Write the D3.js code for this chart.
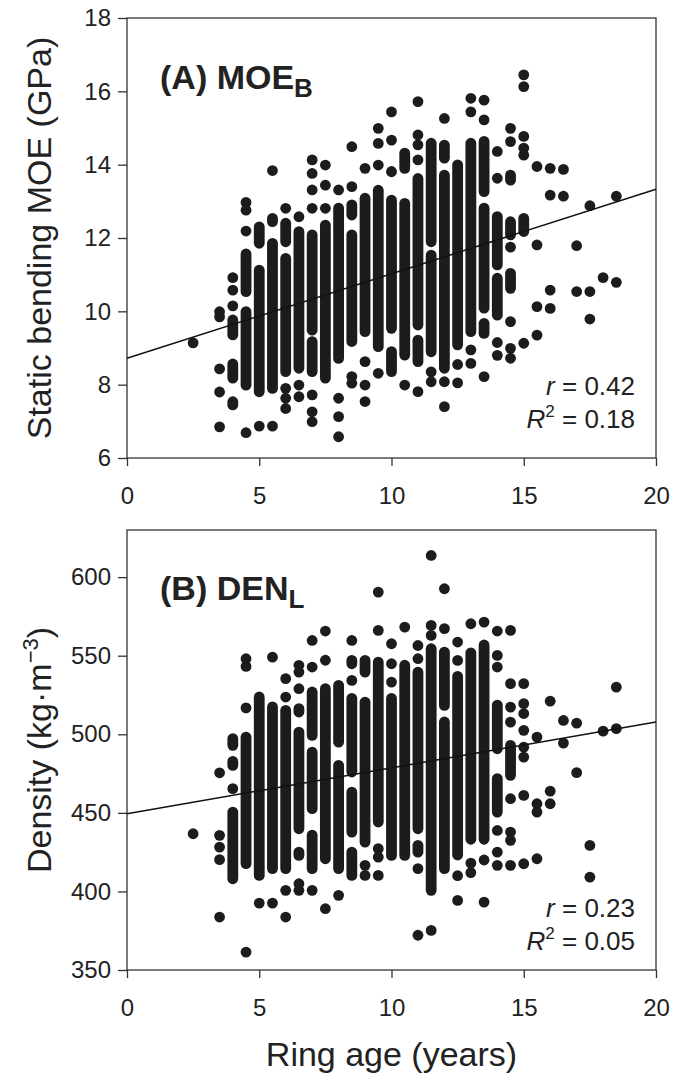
<!DOCTYPE html>
<html><head><meta charset="utf-8">
<script src="https://cdn.jsdelivr.net/npm/d3@7"></script>
<style>
body{margin:0;background:#fff}
text{font-family:"Liberation Sans",Arial,sans-serif;fill:#222}
</style>
</head><body>
<svg id="c" width="673" height="1081"></svg>
<script>
// ---------- data ----------
const xTicks = [0, 5, 10, 15, 20];
const moeTicks = [6, 8, 10, 12, 14, 16, 18];
const denTicks = [350, 400, 450, 500, 550, 600];
const moeFit = [8.72, 0.2305];   // intercept, slope
const denFit = [449.5, 2.915];
const moeStats = ["0.42", "0.18"];
const denStats = ["0.23", "0.05"];

// dense runs of overlapping points: [age, upper value, lower value]
const moeRuns = [
  [4,9.90,9.22],[4,8.70,8.04],[4,7.67,7.31],
  [4.5,11.70,10.40],[4.5,10.13,7.85],
  [5,12.44,11.72],[5,11.26,7.67],
  [5.5,12.67,12.31],[5.5,11.99,7.76],
  [6,12.54,11.76],[6,11.58,8.22],
  [6.5,12.31,8.31],
  [7,12.22,9.35],[7,9.31,8.22],
  [7.5,12.49,8.04],
  [8,12.95,8.58],
  [8.5,13.04,12.49],[8.5,12.22,9.04],
  [9,13.22,9.31],
  [9.5,13.44,8.90],
  [10,13.95,13.67],[10,13.17,9.40],[10,9.04,8.22],
  [10.5,14.45,13.76],[10.5,13.08,8.67],
  [11,13.76,9.49],[11,9.35,8.49],
  [11.5,14.72,11.76],[11.5,11.67,8.76],
  [12,14.67,14.04],[12,13.85,8.31],
  [12.5,14.13,8.95],
  [13,14.72,9.31],
  [13.5,14.77,13.13],[13.5,12.95,9.95],[13.5,9.81,9.26],
  [14,12.72,11.13],[14,11.04,9.76],
  [14.5,13.85,13.44],[14.5,12.58,11.95],[14.5,11.17,10.49],
  [15,12.67,12.04]
];
// individual points: [age, value]
const moeDots = [
  [2.5,9.14],
  [3.5,9.99],[3.5,9.85],[3.5,8.43],[3.5,7.80],[3.5,6.85],
  [4,10.92],[4,10.58],[4,10.15],
  [4.5,12.97],[4.5,12.76],[4.5,12.19],[4.5,6.69],
  [5,6.87],
  [5.5,13.84],[5.5,6.87],
  [6,12.81],[6,7.90],[6,7.63],[6,7.35],
  [6.5,12.58],[6.5,7.99],[6.5,7.67],
  [7,14.13],[7,13.76],[7,13.31],[7,12.81],[7,7.72],[7,7.26],[7,6.99],
  [7.5,13.99],[7.5,13.44],[7.5,12.81],
  [8,13.31],[8,7.63],[8,7.13],[8,6.58],
  [8.5,14.49],[8.5,13.40],[8.5,8.22],[8.5,8.04],
  [9,13.90],[9,8.63],[9,7.99],[9,7.54],
  [9.5,14.99],[9.5,14.58],[9.5,13.99],[9.5,8.31],
  [10,15.44],[10,14.67],
  [10.5,7.99],
  [11,15.72],[11,14.81],[11,14.54],[11,14.13],[11,7.81],
  [11.5,8.35],[11.5,8.08],
  [12,15.26],[12,8.08],[12,7.40],
  [12.5,8.55],[12.5,8.05],
  [13,15.81],[13,15.44],[13,8.95],[13,8.58],
  [13.5,15.76],[13.5,15.22],[13.5,8.22],
  [14,14.36],[14,13.63],[14,9.15],[14,8.80],
  [14.5,14.99],[14.5,14.63],[14.5,11.75],[14.5,9.72],[14.5,8.99],[14.5,8.72],
  [15,16.45],[15,16.13],[15,14.77],[15,14.45],[15,14.26],[15,9.13],
  [15.5,13.95],[15.5,11.81],[15.5,10.13],[15.5,9.35],
  [16,13.90],[16,13.17],[16,10.58],[16,10.08],
  [16.5,13.87],[16.5,13.14],
  [17,11.79],[17,10.54],
  [17.5,12.88],[17.5,10.54],[17.5,9.79],
  [18,10.92],
  [18.5,13.14],[18.5,10.79]
];

const denRuns = [
  [4,500.4,489.8],[4,486,477],[4,453.7,404.9],
  [4.5,519.5,514.1],[4.5,501.4,414.5],
  [5,526.9,407],
  [5.5,520.6,411.3],
  [6,538.6,532.2],[6,518.4,411.3],
  [6.5,519.5,511],[6.5,504.6,436.7],[6.5,428.2,419.7],
  [7,530.1,496.1],[7,491.8,449.5],[7,439,411.3],
  [7.5,532.2,417.6],
  [8,534.3,491.8],[8,483.4,411.3],
  [8.5,550.2,541.7],[8.5,526,472.8],[8.5,466.4,434.6],[8.5,428.2,407],
  [9,550.2,536.4],[9,523.7,428.2],
  [9.5,549.1,441],
  [10,526,419.7],
  [10.5,547.1,419.7],
  [11,542.8,436.7],[11,432.5,421.8],
  [11.5,557.6,397.5],
  [12,555.5,515.2],[12,511,411.3],
  [12.5,540,420],
  [13,572.5,568.2],[13,555,430],
  [13.5,560,430],
  [14,521.8,487.6],[14,475,447.3],
  [14.5,496.1,470.7]
];
const denDots = [
  [2.5,436.7],
  [3.5,475.5],[3.5,435.7],[3.5,428.2],[3.5,420.2],[3.5,383.7],
  [4,465.4],
  [4.5,548.1],[4.5,543.2],[4.5,361.4],
  [5,392.6],
  [5.5,549.1],[5.5,392.6],
  [6,523.7],[6,400.7],[6,383.7],
  [6.5,543.9],[6.5,539.6],[6.5,529],[6.5,404.9],[6.5,400.7],
  [7,559.7],[7,542.8],[7,400.7],
  [7.5,565.7],[7.5,547.1],[7.5,389],
  [8,397.5],
  [8.5,559.7],[8.5,534.3],
  [9,416.6],[9,410.2],
  [9.5,590.5],[9.5,566.1],[9.5,427.2],[9.5,421.8],[9.5,410.2],
  [10,557.6],[10,544.9],[10,533.2],
  [10.5,568.2],
  [11,556.5],[11,548.1],[11,414.5],[11,372.1],
  [11.5,613.8],[11.5,569.3],[11.5,562.9],[11.5,375.2],
  [12,592.6],[12,567.2],
  [12.5,558.7],[12.5,547],[12.5,410],[12.5,394.3],
  [13,418],[13,412],
  [13.5,571.4],[13.5,420],[13.5,393.2],
  [14,565.7],[14,550.2],[14,542.8],[14,438.8],[14,425],[14,416.6],
  [14.5,566.1],[14.5,532.2],[14.5,517.3],[14.5,507.7],[14.5,459],[14.5,437.8],[14.5,432.5],[14.5,416.6],
  [15,532.2],[15,519.5],[15,513.2],[15,502.5],[15,491.8],[15,485.5],[15,461.1],[15,417.6],
  [15.5,498.2],[15.5,455.8],[15.5,450.5],[15.5,420.8],
  [16,521.1],[16,463.8],[16,455.8],
  [16.5,508.8],[16.5,494.4],
  [17,507.1],[17,475.6],
  [17.5,429.3],[17.5,409.1],
  [18,502],
  [18.5,530],[18.5,503.6]
];

// ---------- drawing ----------
const svg = d3.select("#c");
const L = 127, R = 656, r = 5.4;
const ink = "#1c1c1c", axisCol = "#333";
const x = d3.scaleLinear().domain([0, 20]).range([L, R]);

function panel(o) {
  const y = d3.scaleLinear().domain(o.domain).range([o.bottom, o.top]);
  const g = svg.append("g");

  g.append("rect").attr("x", L).attr("y", o.top).attr("width", R - L).attr("height", o.bottom - o.top)
    .attr("fill", "none").attr("stroke", axisCol).attr("stroke-width", 1.3);

  const ax = g.append("g").attr("transform", `translate(${L},0)`)
    .call(d3.axisLeft(y).tickValues(o.ticks).tickSize(9).tickPadding(7).tickSizeOuter(0));
  ax.select(".domain").remove();
  ax.selectAll("line").attr("stroke", axisCol).attr("stroke-width", 1.3);
  ax.selectAll("text").style("font-size", "24px").attr("fill", "#2a2a2a");

  const bx = g.append("g").attr("transform", `translate(0,${o.bottom})`)
    .call(d3.axisBottom(x).tickValues(xTicks).tickSize(8).tickPadding(21).tickSizeOuter(0));
  bx.select(".domain").remove();
  bx.selectAll("line").attr("stroke", axisCol).attr("stroke-width", 1.3);
  bx.selectAll("text").style("font-size", "24px").attr("fill", "#2a2a2a");

  g.selectAll(null).data(o.runs).join("line")
    .attr("x1", d => x(d[0])).attr("x2", d => x(d[0]))
    .attr("y1", d => { const a = y(d[1]) + 5, b = y(d[2]) - 5; return a <= b ? a : (a + b) / 2; })
    .attr("y2", d => { const a = y(d[1]) + 5, b = y(d[2]) - 5; return a <= b ? b : (a + b) / 2; })
    .attr("stroke", ink).attr("stroke-width", 2 * r).attr("stroke-linecap", "round");
  g.selectAll(null).data(o.dots).join("circle")
    .attr("cx", d => x(d[0])).attr("cy", d => y(d[1])).attr("r", r).attr("fill", ink);

  g.append("line").attr("x1", x(0)).attr("x2", x(20))
    .attr("y1", y(o.fit[0])).attr("y2", y(o.fit[0] + o.fit[1] * 20))
    .attr("stroke", "#111").attr("stroke-width", 1.5);

  const t = g.append("text").attr("x", 160).attr("y", o.top + o.labelDy)
    .style("font-size", "34px").style("font-weight", "bold");
  t.append("tspan").text(o.label);
  t.append("tspan").attr("dy", 8).style("font-size", "26px").text(o.sub);

  const s1 = g.append("text").attr("x", 635).attr("y", o.statY).attr("text-anchor", "end").style("font-size", "26px");
  s1.append("tspan").style("font-style", "italic").text("r");
  s1.append("tspan").text(" = " + o.stats[0]);
  const s2 = g.append("text").attr("x", 635).attr("y", o.statY + 33).attr("text-anchor", "end").style("font-size", "26px");
  s2.append("tspan").style("font-style", "italic").text("R");
  s2.append("tspan").attr("dy", -11).style("font-size", "17px").text("2");
  s2.append("tspan").attr("dy", 11).text(" = " + o.stats[1]);

  const yt = svg.append("text").attr("transform", `translate(51,${(o.top + o.bottom) / 2}) rotate(-90)`)
    .attr("text-anchor", "middle").style("font-size", "34px");
  o.ytitle(yt);
}

panel({ domain: [6, 18], top: 18, bottom: 458, ticks: moeTicks, runs: moeRuns, dots: moeDots,
  fit: moeFit, label: "(A) MOE", sub: "B", labelDy: 71, stats: moeStats, statY: 395,
  ytitle: t => t.text("Static bending MOE (GPa)") });

panel({ domain: [350, 630], top: 530, bottom: 970, ticks: denTicks, runs: denRuns, dots: denDots,
  fit: denFit, label: "(B) DEN", sub: "L", labelDy: 70, stats: denStats, statY: 917,
  ytitle: t => { t.append("tspan").text("Density (kg\u00B7m");
                 t.append("tspan").attr("dy", -13).style("font-size", "22px").text("\u22123");
                 t.append("tspan").attr("dy", 13).text(")"); } });

svg.append("text").attr("x", (L + R) / 2).attr("y", 1066).attr("text-anchor", "middle")
  .style("font-size", "34px").text("Ring age (years)");
</script>
</body></html>
